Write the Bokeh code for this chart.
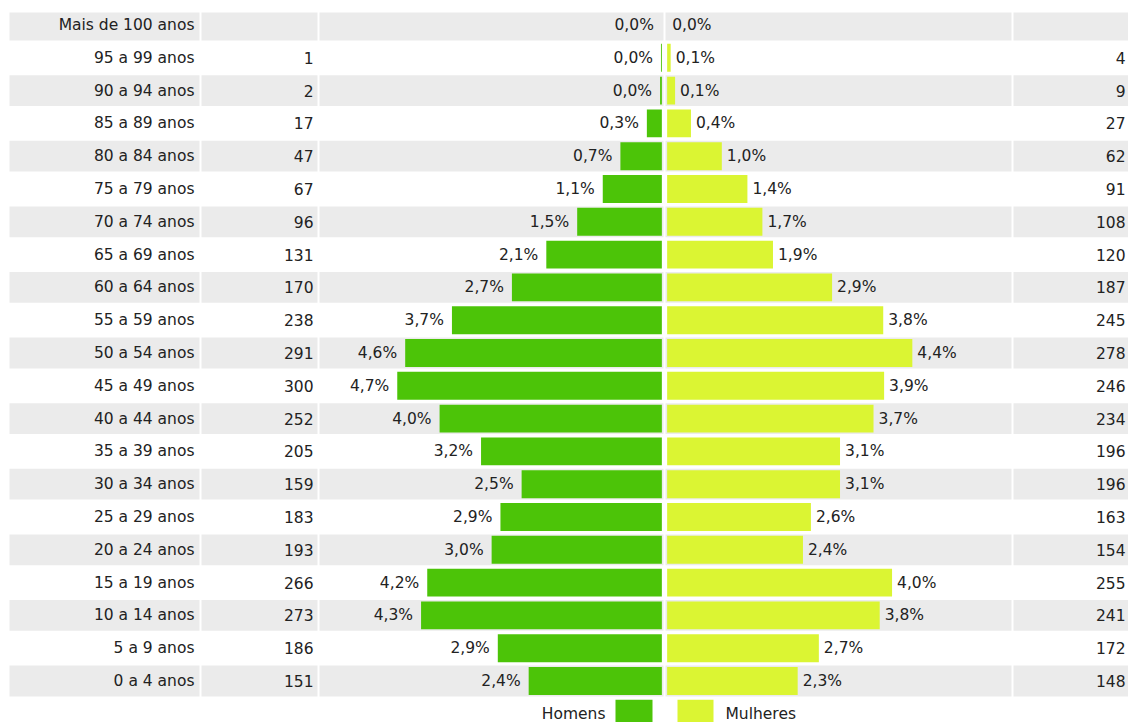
from bokeh.plotting import figure
from bokeh.models import Range1d, Span, ColumnDataSource
from bokeh.core.properties import value
from bokeh.embed import file_html
from bokeh.resources import INLINE

# ---------------- data ----------------
age_groups = ["Mais de 100 anos", "95 a 99 anos", "90 a 94 anos", "85 a 89 anos",
              "80 a 84 anos", "75 a 79 anos", "70 a 74 anos", "65 a 69 anos",
              "60 a 64 anos", "55 a 59 anos", "50 a 54 anos", "45 a 49 anos",
              "40 a 44 anos", "35 a 39 anos", "30 a 34 anos", "25 a 29 anos",
              "20 a 24 anos", "15 a 19 anos", "10 a 14 anos", "5 a 9 anos", "0 a 4 anos"]
male_counts = [None, 1, 2, 17, 47, 67, 96, 131, 170, 238, 291, 300, 252, 205,
               159, 183, 193, 266, 273, 186, 151]
female_counts = [None, 4, 9, 27, 62, 91, 108, 120, 187, 245, 278, 246, 234, 196,
                 196, 163, 154, 255, 241, 172, 148]
male_pct = [0.0, 0.0, 0.0, 0.3, 0.7, 1.1, 1.5, 2.1, 2.7, 3.7, 4.6, 4.7, 4.0, 3.2,
            2.5, 2.9, 3.0, 4.2, 4.3, 2.9, 2.4]
female_pct = [0.0, 0.1, 0.1, 0.4, 1.0, 1.4, 1.7, 1.9, 2.9, 3.8, 4.4, 3.9, 3.7, 3.1,
              3.1, 2.6, 2.4, 4.0, 3.8, 2.7, 2.3]
legend_labels = ["Homens", "Mulheres"]

# ---------------- layout / style ----------------
W, H = 1128, 722
PX = 0.882          # pixels per person
CX = 664            # centre of pyramid in figure pixels
ROW = 32.8          # row pitch (px)
ROW0 = 24.5         # centre of first row (px from top)
GAP = 3.0           # half gap at the centre (data units)
BAR_H = 0.85
BAND_H = 0.94
MALE_C = "#4cc408"
FEMALE_C = "#dbf533"
BAND_C = "#ebebeb"
TXT_C = "#222222"
FONT = value("DejaVu Sans")
FS = "15.5px"


def dx(px):
    return (px - CX) / PX


n = len(age_groups)
rows = list(range(n))

p = figure(width=W, height=H, output_backend="svg", toolbar_location=None,
           x_range=Range1d(dx(0), dx(W)),
           y_range=Range1d((H - ROW0) / ROW, -ROW0 / ROW),
           min_border=0, background_fill_color="white", border_fill_color="white")
p.axis.visible = False
p.grid.visible = False
p.outline_line_color = None

# grey bands
band_rows = [i for i in rows if i % 2 == 0]
p.quad(left=dx(9), right=dx(W + 10),
       top=[max(i - BAND_H / 2, -0.38) for i in band_rows],
       bottom=[i + BAND_H / 2 for i in band_rows], fill_color=BAND_C, line_color=None)

m = [c if c is not None else 0 for c in male_counts]
f = [c if c is not None else 0 for c in female_counts]

src = ColumnDataSource(dict(
    y=rows,
    age=age_groups,
    m_left=[-(v) - GAP for v in m],
    m_right=[-GAP] * n,
    f_left=[GAP] * n,
    f_right=[v + GAP for v in f],
    m_txt=[("%.1f" % v).replace(".", ",") + "%" for v in male_pct],
    f_txt=[("%.1f" % v).replace(".", ",") + "%" for v in female_pct],
    m_cnt=["" if c is None else str(c) for c in male_counts],
    f_cnt=["" if c is None else str(c) for c in female_counts],
    top=[i - BAR_H / 2 for i in rows],
    bottom=[i + BAR_H / 2 for i in rows],
))

p.quad(left="m_left", right="m_right", top="top", bottom="bottom", source=src,
       fill_color=MALE_C, line_color=None)
p.quad(left="f_left", right="f_right", top="top", bottom="bottom", source=src,
       fill_color=FEMALE_C, line_color=None)

common = dict(text_font=FONT, text_font_size=FS, text_color=TXT_C,
              text_baseline="middle", source=src)
p.text(x="m_left", y="y", text="m_txt", text_align="right", x_offset=-8, **common)
p.text(x="f_right", y="y", text="f_txt", text_align="left", x_offset=5, **common)
p.text(x=dx(194), y="y", text="age", text_align="right", **common)
p.text(x=dx(313), y="y", text="m_cnt", text_align="right", **common)
p.text(x=dx(1125), y="y", text="f_cnt", text_align="right", **common)

# white column separators
for sx in (200, 318, CX, 1012):
    p.add_layout(Span(location=dx(sx), dimension="height", line_color="white",
                      line_width=2))

# legend row (below last row)
ly = n
p.quad(left=[dx(615), dx(677)], right=[dx(652), dx(713)],
       top=[ly - BAR_H / 2] * 2, bottom=[ly + BAR_H / 2] * 2,
       fill_color=[MALE_C, FEMALE_C], line_color=None)
p.text(x=[dx(605), dx(725)], y=[ly, ly], text=legend_labels,
       text_align=["right", "left"], text_baseline="middle", text_font=FONT,
       text_font_size=FS, text_color=TXT_C)

open("out.html", "w").write(file_html(p, INLINE))
